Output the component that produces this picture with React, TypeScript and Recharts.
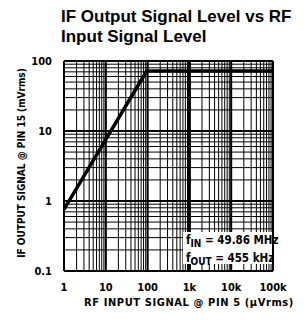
import React from 'react'
import {
  LineChart,
  Line,
  XAxis,
  YAxis,
  CartesianGrid,
  ReferenceLine,
} from 'recharts'

// RF input (uVrms) vs IF output (mVrms)
const rfInput = [1, 95, 100000]
const ifOutput = [0.76, 72, 72]

const xDecades = [1, 10, 100, 1000, 10000, 100000]
const yDecades = [0.1, 1, 10, 100]
const minorSteps = [1, 2, 3, 4, 5, 6, 7, 8, 9]

const xTickLabels: Record<number, string> = {
  1: '1', 10: '10', 100: '100', 1000: '1k', 10000: '10k', 100000: '100k',
}
const yTickLabels: Record<number, string> = {
  0.1: '0.1', 1: '1', 10: '10', 100: '100',
}

const data = rfInput.map((x, i) => ({ x, y: ifOutput[i] }))

function minorTicks(decades: number[]) {
  const out: number[] = []
  decades.slice(0, -1).forEach(d => {
    minorSteps.forEach(s => out.push(+(d * s).toPrecision(6)))
  })
  out.push(decades[decades.length - 1])
  return out
}

const xTicks = minorTicks(xDecades)
const yTicks = minorTicks(yDecades)

const FONT = '"DejaVu Sans Condensed", "DejaVu Sans", sans-serif'
const narrow = { fontFamily: FONT, fontWeight: 'bold' as const, fontStretch: 'condensed', color: '#000' }
const tickStyle = { fontFamily: FONT, fontWeight: 'bold', fontSize: 11, fill: '#000', style: { fontStretch: 'condensed' } }

export default function App() {
  return (
    <div style={{ position: 'absolute', left: 0, top: 0, width: 304, height: 320, background: '#fff' }}>
      <div
        style={{
          position: 'absolute', left: 61, top: 7, width: 245,
          fontFamily: '"Liberation Sans", Arial, sans-serif', fontWeight: 'bold',
          fontSize: 17, lineHeight: '20px', color: '#000', whiteSpace: 'nowrap',
        }}
      >
        IF Output Signal Level vs RF
        <br />
        Input Signal Level
      </div>
      <LineChart
        width={304}
        height={320}
        data={data}
        margin={{ top: 61, right: 31, bottom: 29, left: 24 }}
        style={{ position: 'absolute', left: 0, top: 0 }}
      >
        <CartesianGrid stroke="#000" strokeWidth={1} />
        <XAxis
          dataKey="x"
          type="number"
          scale="log"
          domain={[1, 100000]}
          ticks={xTicks}
          interval={0}
          tickFormatter={v => xTickLabels[v] ?? ''}
          tickLine={false}
          axisLine={false}
          height={20}
          tick={tickStyle}
          tickMargin={6}
          allowDataOverflow
        />
        <YAxis
          dataKey="y"
          type="number"
          scale="log"
          domain={[0.1, 100]}
          ticks={yTicks}
          interval={0}
          tickFormatter={v => yTickLabels[v] ?? ''}
          tickLine={false}
          axisLine={false}
          width={40}
          tick={tickStyle}
          tickMargin={6}
          allowDataOverflow
        />
        {xDecades.map(v => (
          <ReferenceLine key={'x' + v} x={v} stroke="#000" strokeWidth={v === 1000 ? 3 : 2} />
        ))}
        {yDecades.map(v => (
          <ReferenceLine key={'y' + v} y={v} stroke="#000" strokeWidth={2} />
        ))}
        <Line
          dataKey="y"
          type="linear"
          stroke="#000"
          strokeWidth={3.5}
          dot={false}
          isAnimationActive={false}
        />
      </LineChart>
      <div
        style={{
          ...narrow,
          position: 'absolute', left: 183, top: 232, width: 89, height: 32,
          background: '#fff', fontSize: 11.5, whiteSpace: 'nowrap',
          lineHeight: '14px', paddingLeft: 3, paddingTop: 1, boxSizing: 'border-box',
        }}
      >
        <div>f<sub style={{ fontSize: 10, verticalAlign: '-3px' }}>IN</sub> = 49.86 MHz</div>
        <div>f<sub style={{ fontSize: 10, verticalAlign: '-3px' }}>OUT</sub> = 455 kHz</div>
      </div>
      <div
        style={{
          ...narrow,
          position: 'absolute', left: 21, top: 163, width: 200,
          transform: 'translate(-50%, -50%) rotate(-90deg)', textAlign: 'center',
          fontSize: 10, whiteSpace: 'nowrap',
        }}
      >
        IF OUTPUT SIGNAL @ PIN 15 (mVrms)
      </div>
      <div
        style={{
          ...narrow,
          position: 'absolute', left: 82, top: 296, width: 214, textAlign: 'center',
          fontSize: 11, letterSpacing: '0.6px', whiteSpace: 'nowrap',
        }}
      >
        RF INPUT SIGNAL @ PIN 5 (μVrms)
      </div>
    </div>
  )
}
